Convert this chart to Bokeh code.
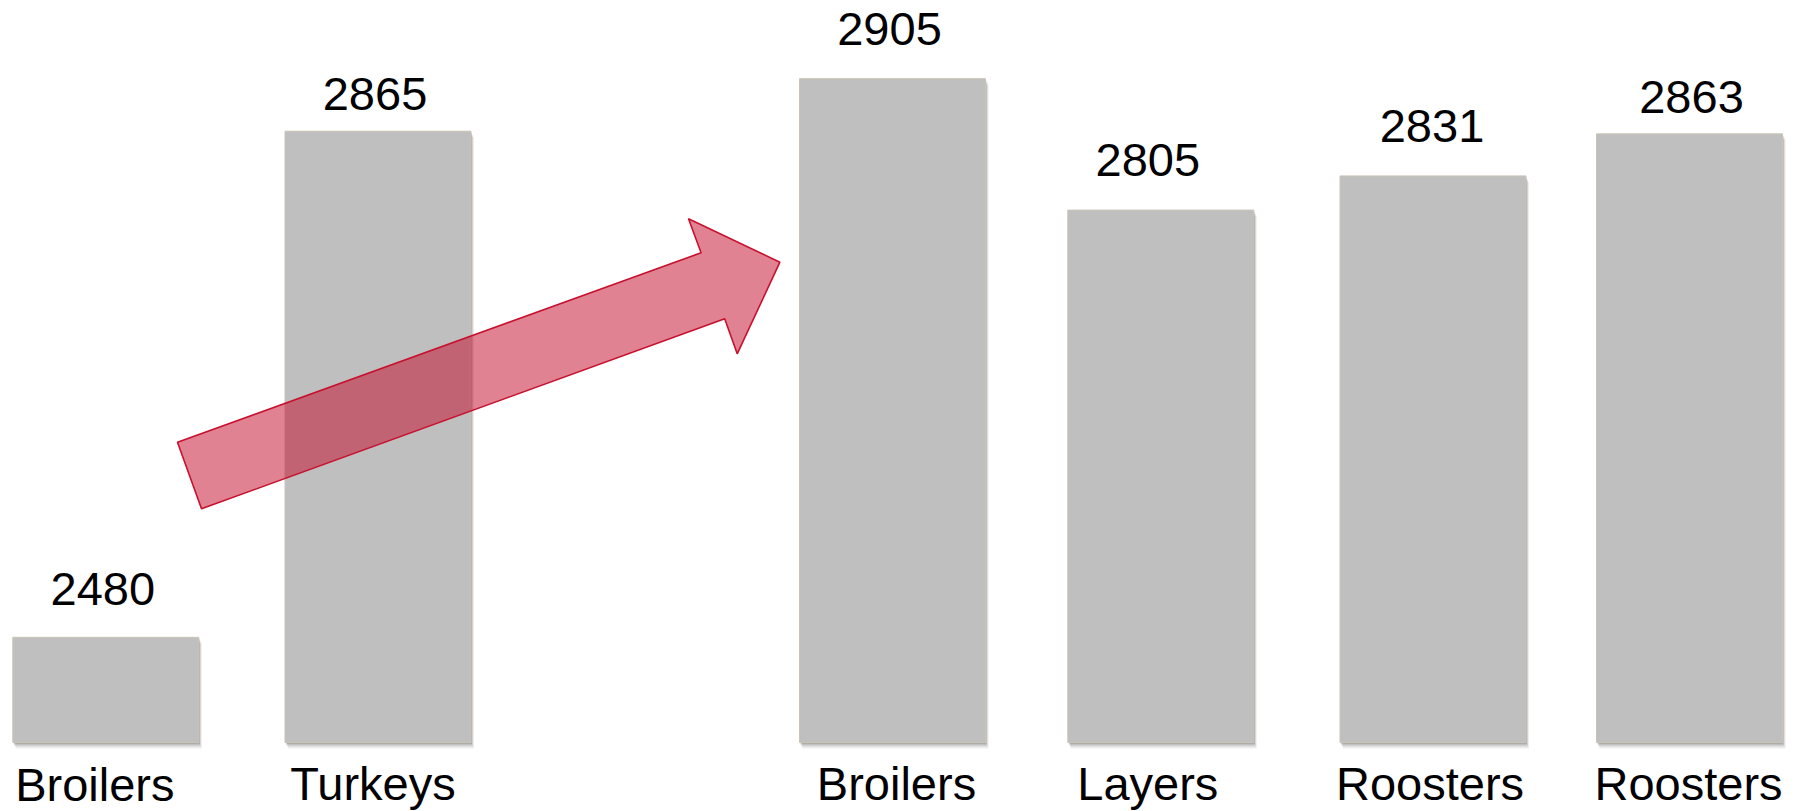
from bokeh.plotting import figure
from bokeh.models import Range1d, ColumnDataSource
from bokeh.core.properties import value
from bokeh.embed import file_html
from bokeh.resources import INLINE

# ---- data ----
categories = ["Broilers", "Turkeys", "Broilers", "Layers", "Roosters", "Roosters"]
values = [2480, 2865, 2905, 2805, 2831, 2863]
value_labels = [str(v) for v in values]

# ---- layout (screen pixels) ----
W, H = 1798, 811
bar_centers = [105.3, 377.5, 892.0, 1160.3, 1432.5, 1689.0]
BAR_W = 186
BASE = 2400            # value at the bars' baseline
BASE_PX = 742          # pixel row of the baseline
PX_PER_UNIT = 1.3146   # vertical scale
TEXT_SHIFT = 17        # renderer baseline correction (px)
value_label_dx = [-3, -3, -3, -13, -1, 2]
value_label_gap = [31, 20, 33, 33, 33, 20]
cat_label_dx = [-11, -5, 4, -13, -3, -1]
cat_label_px = [800.5, 799.5, 799.5, 799.5, 799.5, 799.5]


def v_of_px(py):
    return BASE + (BASE_PX - py) / PX_PER_UNIT


y_start = v_of_px(H)
y_end = v_of_px(0)

p = figure(width=W, height=H, output_backend="svg", toolbar_location=None,
           x_range=Range1d(0, W), y_range=Range1d(y_start, y_end),
           x_axis_location=None, y_axis_location=None, min_border=0)
p.grid.visible = False
p.outline_line_color = None
p.background_fill_color = "white"
p.border_fill_color = "white"

lefts = [c - BAR_W / 2 for c in bar_centers]
rights = [c + BAR_W / 2 for c in bar_centers]
src = ColumnDataSource(dict(left=lefts, right=rights, top=values,
                            bottom=[BASE] * len(values)))

# soft shadow below/right of the bars
for dx, dy, a in [(3, 6, 0.10), (2, 4, 0.18), (1, 2, 0.30)]:
    p.quad(left=[l + dx for l in lefts], right=[r + dx for r in rights],
           top=[v - dy / PX_PER_UNIT for v in values],
           bottom=[BASE - dy / PX_PER_UNIT] * len(values),
           fill_color="#555555", fill_alpha=a, line_color=None)

p.quad(left="left", right="right", top="top", bottom="bottom", source=src,
       fill_color="#bfbfbf", line_color="#cbc4b6", line_width=1)

# value labels above bars
p.text(x=[c + d for c, d in zip(bar_centers, value_label_dx)],
       y=[v + (g + TEXT_SHIFT) / PX_PER_UNIT for v, g in zip(values, value_label_gap)],
       text=value_labels, text_font=value("Liberation Sans"),
       text_font_size="47px", text_align="center",
       text_baseline="alphabetic", text_color="black")

# category labels below bars
p.text(x=[c + d for c, d in zip(bar_centers, cat_label_dx)],
       y=[v_of_px(py - TEXT_SHIFT) for py in cat_label_px],
       text=categories, text_font=value("Liberation Sans"),
       text_font_size="47px", text_align="center",
       text_baseline="alphabetic", text_color="black")

# red block arrow (screen pixel outline)
arrow_px = [(177, 441.7), (700.6, 252.3), (688, 218.3), (779.4, 261.7),
            (736.7, 353.3), (724.2, 318.3), (201, 508.3)]
p.patch(x=[a[0] for a in arrow_px], y=[v_of_px(a[1]) for a in arrow_px],
        fill_color="#c30f2d", fill_alpha=0.52,
        line_color="#c8102e", line_width=1.6)

open("out.html", "w").write(file_html(p, INLINE))
